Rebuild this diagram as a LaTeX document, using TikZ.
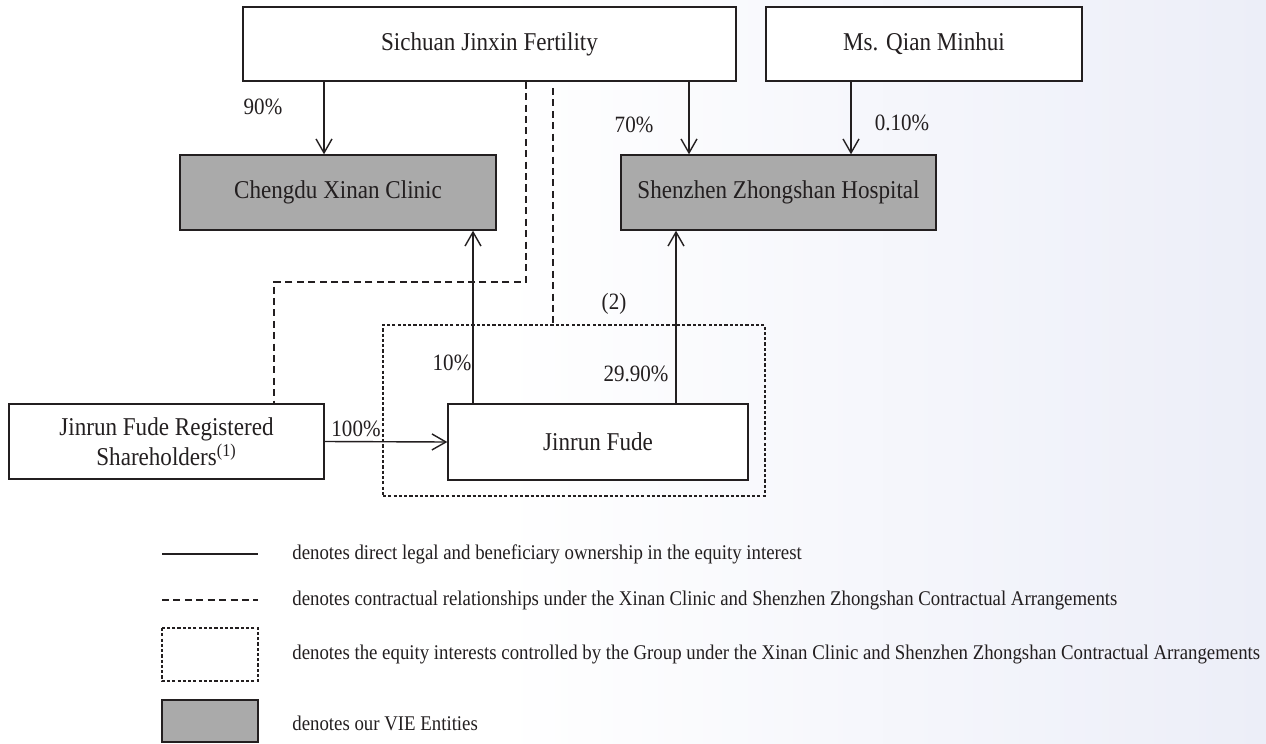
\documentclass[tikz,border=0pt]{standalone}
\usepackage{fontspec}
\setmainfont{Liberation Serif}[FakeStretch=0.9]
\usetikzlibrary{arrows.meta}
\definecolor{viegray}{HTML}{AAAAAA}
\definecolor{bgtint}{HTML}{ECEEF8}
\definecolor{lineblack}{HTML}{231F20}

\begin{document}
\begin{tikzpicture}[x=0.02cm, y=-0.02cm,
  every node/.style={font=\fontsize{14.6}{17}\selectfont, text=lineblack},
  entity/.style={draw=lineblack, line width=0.8pt, fill=white,
    minimum height=1.48cm, inner sep=0pt},
  vie/.style={entity, fill=viegray},
  own/.style={draw=lineblack, line width=0.8pt,
    -{Straight Barb[length=2.8mm, width=3.2mm]}},
  contract/.style={draw=lineblack, line width=0.8pt, dash pattern=on 4pt off 2.5pt},
  ctrlbox/.style={draw=lineblack, line width=0.8pt, dash pattern=on 1.8pt off 1.2pt},
  pct/.style={inner sep=0pt, font=\fontsize{13.3}{16}\selectfont},
  legendtext/.style={font=\fontsize{11.9}{14}\selectfont, anchor=west, inner sep=0pt}]

  % ---- Background ----
  \useasboundingbox (0,0) rectangle (1266,743);
  \fill[white] (0,0) rectangle (1266,743);
  \shade[left color=white, right color=bgtint] (500,0) rectangle (1266,743);

  % ---- Owners ----
  \node[entity, minimum width=9.86cm] (sichuan) at (489.5,44) {Sichuan Jinxin Fertility};
  \node[entity, minimum width=6.32cm] (qian) at (924,44) {Ms. Qian Minhui};

  % ---- VIE entities ----
  \node[vie, minimum width=6.32cm, minimum height=1.5cm] (chengdu) at (338,192.5)
    {Chengdu Xinan Clinic};
  \node[vie, minimum width=6.3cm, minimum height=1.5cm] (shenzhen) at (778.5,192.5)
    {Shenzhen Zhongshan Hospital};

  % ---- Controlled equity (dashed frame) ----
  \node[ctrlbox, minimum width=7.64cm, minimum height=3.42cm] (ctrl) at (574,410.5) {};

  \node[entity, minimum width=6.3cm, minimum height=1.5cm, align=center] (registered)
    at (166.5,441.5) {Jinrun Fude Registered\\Shareholders\textsuperscript{(1)}};
  \node[entity, minimum width=6cm, minimum height=1.52cm] (jinrun) at (598,442)
    {Jinrun Fude};

  % ---- Ownership arrows ----
  \coordinate (col90) at (324,0);
  \coordinate (col70) at (689,0);
  \coordinate (col010) at (851,0);
  \coordinate (col10) at (473,0);
  \coordinate (col2990) at (676,0);

  \draw[own] (sichuan.south -| col90) -- (chengdu.north -| col90);
  \draw[own] (sichuan.south -| col70) -- (shenzhen.north -| col70);
  \draw[own] (qian.south -| col010) -- (shenzhen.north -| col010);
  \draw[own] (jinrun.north -| col10) -- (chengdu.south -| col10);
  \draw[own] (jinrun.north -| col2990) -- (shenzhen.south -| col2990);
  \draw[own] (registered.east) -- (jinrun.west);

  % ---- Contractual arrangements ----
  \coordinate (bendA) at (526,282);
  \coordinate (bendB) at (274,282);
  \coordinate (col2) at (553,88);
  \draw[contract] (sichuan.south -| bendA) -- (bendA) -- (bendB)
    -- (registered.north -| bendB);
  \draw[contract] (col2) -- (ctrl.north -| col2);

  % ---- Percentages ----
  \node[pct] (l90) at (263,107) {90\%};
  \node[pct] (l70) at (634,125) {70\%};
  \node[pct] (l010) at (902,123) {0.10\%};
  \node[pct] (l10) at (452,363) {10\%};
  \node[pct] (l2990) at (636,374) {29.90\%};
  \node[pct] (l100) at (356,429) {100\%};
  \node[pct] (note2) at (614,304) {(2)};

  % ---- Legend ----
  \draw[line width=0.8pt, lineblack] (162,554) -- (258,554);
  \node[legendtext] (leg1) at (292,554)
    {denotes direct legal and beneficiary ownership in the equity interest};
  \draw[contract] (162,600) -- (258,600);
  \node[legendtext] (leg2) at (292,600)
    {denotes contractual relationships under the Xinan Clinic and Shenzhen Zhongshan Contractual Arrangements};
  \draw[ctrlbox] (162,628) rectangle (258,681);
  \node[legendtext] (leg3) at (292,654)
    {denotes the equity interests controlled by the Group under the Xinan Clinic and Shenzhen Zhongshan Contractual Arrangements};
  \draw[fill=viegray, draw=lineblack, line width=1pt] (162,700) rectangle (258,742);
  \node[legendtext] (leg4) at (292,723) {denotes our VIE Entities};

\end{tikzpicture}
\end{document}
